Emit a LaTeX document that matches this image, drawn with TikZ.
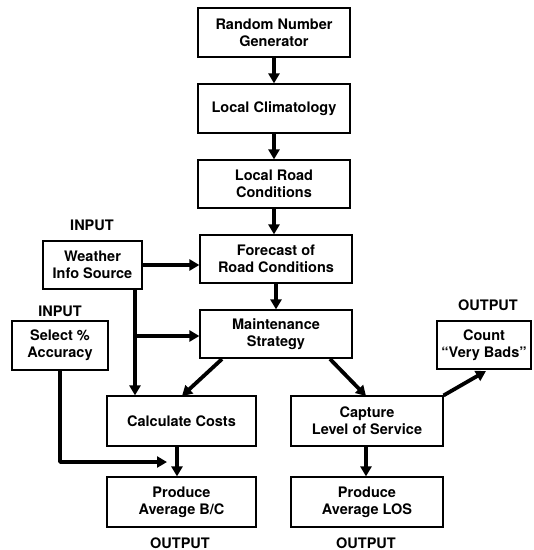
\documentclass[tikz,border=0pt]{standalone}
\usepackage{fontspec}
\setmainfont{TeX Gyre Heros}
\usetikzlibrary{arrows.meta,calc}
\begin{document}
\begin{tikzpicture}[x=1pt,y=-1pt,
  box/.style={draw, line width=1.2pt, align=center, inner sep=1pt,
    font=\fontsize{14.5}{17}\selectfont\bfseries},
  lbl/.style={font=\fontsize{14.5}{17}\selectfont\bfseries, inner sep=0pt},
  arr/.style={line width=3.8pt, -{Triangle[length=10pt,width=11pt]}},
  ln/.style={line width=3.8pt}]
\useasboundingbox (0,0) rectangle (534,550);
\node[box, minimum width=152pt, minimum height=49pt] (rng) at (274,32.5) {Random Number\\Generator};
\node[box, minimum width=152pt, minimum height=49pt] (clim) at (274,108.5) {Local Climatology};
\node[box, minimum width=152pt, minimum height=48pt] (road) at (274,184) {Local Road\\Conditions};
\node[box, minimum width=152pt, minimum height=48pt] (fore) at (276,259) {Forecast of\\Road Conditions};
\node[box, minimum width=152pt, minimum height=48pt] (maint) at (276,334) {Maintenance\\Strategy};
\node[box, minimum width=99pt, minimum height=48pt] (weather) at (92.5,265) {Weather\\Info Source};
\node[box, minimum width=96pt, minimum height=49pt] (select) at (60,345.5) {Select \%\\Accuracy};
\node[box, minimum width=149pt, minimum height=50pt] (calc) at (181.5,421) {Calculate Costs};
\node[box, minimum width=152pt, minimum height=50pt] (capt) at (367,421) {Capture\\Level of Service};
\node[box, minimum width=149pt, minimum height=50pt] (bc) at (181.5,502) {Produce\\Average B/C};
\node[box, minimum width=152pt, minimum height=50pt] (los) at (367,502) {Produce\\Average LOS};
\node[box, minimum width=94pt, minimum height=48pt] (count) at (484,345) {Count\\``Very Bads''};
\node[lbl] (in1) at (92,225) {INPUT};
\node[lbl] (in2) at (60,311) {INPUT};
\node[lbl] (out1) at (488,305) {OUTPUT};
\node[lbl] (out2) at (180,543) {OUTPUT};
\node[lbl] (out3) at (366,543) {OUTPUT};
% main chain
\draw[arr] (rng) -- (clim);
\draw[arr] (clim) -- (road);
\draw[arr] (road.south) -- (road.south |- fore.north);
\draw[arr] (fore) -- (maint);
% weather
\draw[arr] (weather.east) -- (weather.east -| fore.west);
\coordinate (wtop) at (weather.south -| 135,0);
\coordinate (wj) at (135,336);
\draw[ln] (wtop) -- (wj);
\draw[arr] (wj) -- (wj -| maint.west);
\draw[arr] (wj) -- (wj |- calc.north);
% select
\coordinate (st) at (select.south -| 60,0);
\coordinate (sc) at (60,462);
\coordinate (se) at (167,462);
\draw[line width=3.8pt, line join=round] (st) -- (sc) -- ($(se)+(-6,0)$);
\draw[arr] (sc) -- (se);
% maintenance branches
\coordinate (m1) at (222,359);
\coordinate (c1) at (182,396);
\draw[arr] (m1) -- (c1);
\coordinate (m2) at (330,359);
\coordinate (c2) at (366,396);
\draw[arr] (m2) -- (c2);
% outputs
\draw[arr] ([xshift=-4.5pt]bc.north |- calc.south) -- ([xshift=-4.5pt]bc.north);
\draw[arr] (capt.south -| 366,0) -- (los.north -| 366,0);
\draw[arr] (capt.north east) -- (486,371);
\end{tikzpicture}
\end{document}
